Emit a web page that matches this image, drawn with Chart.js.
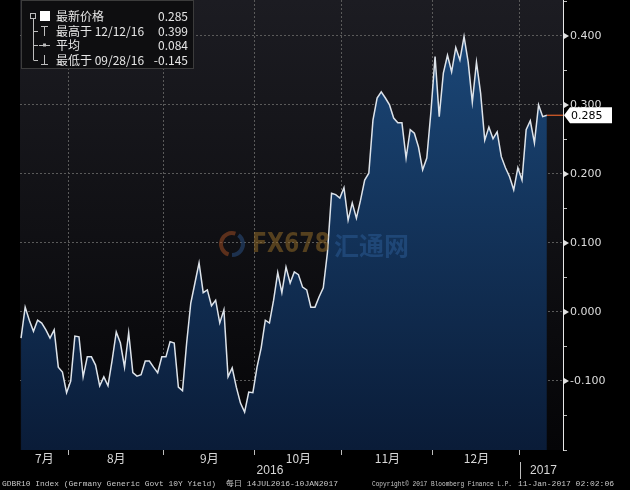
<!DOCTYPE html>
<html>
<head>
<meta charset="utf-8">
<script src="https://cdn.jsdelivr.net/npm/chart.js@4.4.0/dist/chart.umd.min.js"></script>
<style>
html, body { margin: 0; padding: 0; background: #000; }
canvas { display: block; }
</style>
</head>
<body>
<canvas id="myChart" width="630" height="490"></canvas>
<script>
// GDBR10 daily yield, 14 Jul 2016 - 10 Jan 2017
var yields = [
    -0.038, 0.007, -0.012, -0.028, -0.012, -0.016, -0.026, -0.038, -0.026, -0.080, -0.087, -0.117,
    -0.100, -0.035, -0.036, -0.094, -0.065, -0.065, -0.077, -0.107, -0.094, -0.107, -0.070,
    -0.029, -0.045, -0.080, -0.030, -0.088, -0.093, -0.091, -0.071, -0.071, -0.080, -0.088,
    -0.065, -0.065, -0.043, -0.045, -0.109, -0.114, -0.045, 0.013, 0.042, 0.071, 0.028,
    0.032, 0.009, 0.017, -0.016, 0.003, -0.094, -0.081, -0.109, -0.132, -0.145, -0.116,
    -0.117, -0.080, -0.052, -0.012, -0.016, 0.017, 0.057, 0.028, 0.065, 0.042, 0.058,
    0.054, 0.036, 0.032, 0.007, 0.007, 0.022, 0.035, 0.086, 0.172, 0.170, 0.165,
    0.180, 0.133, 0.158, 0.136, 0.162, 0.191, 0.201, 0.278, 0.310, 0.319, 0.310,
    0.300, 0.281, 0.274, 0.274, 0.223, 0.264, 0.259, 0.239, 0.206, 0.223, 0.290,
    0.370, 0.283, 0.346, 0.372, 0.348, 0.383, 0.365, 0.399, 0.362, 0.304, 0.362,
    0.317, 0.249, 0.268, 0.251, 0.261, 0.225, 0.209, 0.196, 0.177, 0.209, 0.191,
    0.264, 0.277, 0.245, 0.300, 0.283, 0.285
];

// month boundaries (in trading-day index) and labels
var monthEdges = [11.5, 34.5, 56.5, 77.5, 99.5, 120.5];
var monthLabels = ['7月', '8月', '9月', '10月', '11月', '12月'];
var yearLabels = ['2016', '2017'];

// right axis
var yTicks = [-0.2, -0.15, -0.1, -0.05, 0, 0.05, 0.1, 0.15, 0.2, 0.25, 0.3, 0.35, 0.4, 0.45];
var yLabels = [-0.1, 0, 0.1, 0.2, 0.3, 0.4];

// legend box
var legendNames = ['最新价格', '最高于 12/12/16', '平均', '最低于 09/28/16'];
var legendValues = ['0.285', '0.399', '0.084', '-0.145'];
var lastValue = '0.285';

var footer = [
    'GDBR10 Index (Germany Generic Govt 10Y Yield)',
    '每日 14JUL2016-10JAN2017',
    'Copyright\u00a9 2017 Bloomberg Finance L.P.',
    '11-Jan-2017 02:02:06'
];

var points = yields.map(function (v, i) { return {x: i, y: v}; });

function isMajor(v) {
    for (var i = 0; i < yLabels.length; i++) {
        if (Math.abs(yLabels[i] - v) < 1e-6) return true;
    }
    return false;
}

var cjk = '"Noto Sans CJK SC", "Noto Sans", sans-serif';

var decor = {
    id: 'decor',
    beforeDraw: function (chart) {
        var ctx = chart.ctx, a = chart.chartArea;
        ctx.save();
        ctx.fillStyle = '#000';
        ctx.fillRect(0, 0, chart.width, chart.height);
        var g = ctx.createLinearGradient(0, a.top, 0, a.bottom);
        g.addColorStop(0, '#1c1c22');
        g.addColorStop(1, '#050507');
        ctx.fillStyle = g;
        ctx.fillRect(a.left, a.top, a.right - a.left, a.bottom - a.top);
        ctx.restore();
    },
    afterDatasetsDraw: function (chart) {
        // faint watermark
        var ctx = chart.ctx;
        ctx.save();
        ctx.globalAlpha = 0.55;
        ctx.lineWidth = 4;
        ctx.strokeStyle = '#9a4a22';
        ctx.beginPath();
        ctx.arc(232, 244, 11, Math.PI * 0.6, Math.PI * 1.6);
        ctx.stroke();
        ctx.strokeStyle = '#2a4f80';
        ctx.beginPath();
        ctx.arc(232, 244, 11, Math.PI * 1.7, Math.PI * 0.5);
        ctx.stroke();
        ctx.font = 'bold 27px "DejaVu Sans", sans-serif';
        ctx.textBaseline = 'middle';
        ctx.fillStyle = '#8f6a28';
        ctx.fillText('FX678', 252, 245, 78);
        ctx.font = 'bold 25px ' + cjk;
        ctx.fillStyle = '#2a5a92';
        ctx.fillText('汇通网', 334, 245, 84);
        ctx.restore();
    },
    afterDraw: function (chart) {
        var ctx = chart.ctx, a = chart.chartArea;
        var xs = chart.scales.x, ys = chart.scales.y;
        ctx.save();

        // last price line + tag
        var lx = xs.getPixelForValue(yields.length - 1);
        var ly = ys.getPixelForValue(yields[yields.length - 1]);
        ctx.strokeStyle = '#e0602a';
        ctx.lineWidth = 1.2;
        ctx.beginPath();
        ctx.moveTo(lx, ly);
        ctx.lineTo(a.right, ly);
        ctx.stroke();

        // pointers on labelled ticks
        ctx.fillStyle = '#e0e0e0';
        yLabels.forEach(function (v) {
            var py = ys.getPixelForValue(v);
            ctx.beginPath();
            ctx.moveTo(a.right + 1, py - 3);
            ctx.lineTo(a.right + 6, py);
            ctx.lineTo(a.right + 1, py + 3);
            ctx.closePath();
            ctx.fill();
        });

        ctx.fillStyle = '#fff';
        ctx.beginPath();
        ctx.moveTo(a.right + 1, ly);
        ctx.lineTo(a.right + 7, ly - 8);
        ctx.lineTo(a.right + 49, ly - 8);
        ctx.lineTo(a.right + 49, ly + 8);
        ctx.lineTo(a.right + 7, ly + 8);
        ctx.closePath();
        ctx.fill();
        ctx.fillStyle = '#000';
        ctx.font = '11px "DejaVu Sans", sans-serif';
        ctx.textBaseline = 'middle';
        ctx.fillText(lastValue, a.right + 8, ly + 1);

        // legend box
        ctx.fillStyle = '#0e0e10';
        ctx.fillRect(21.5, 0.5, 172, 68);
        ctx.strokeStyle = '#3c3c3c';
        ctx.lineWidth = 1;
        ctx.strokeRect(21.5, 0.5, 172, 68);
        var rows = [16, 31, 45, 60];
        ctx.strokeStyle = '#bdbdbd';
        ctx.strokeRect(30.5, 13.5, 5, 5);
        ctx.beginPath();
        ctx.moveTo(33.5, 19);
        ctx.lineTo(33.5, rows[3]);
        for (var r = 1; r < 4; r++) {
            ctx.moveTo(33.5, rows[r] + 0.5);
            ctx.lineTo(38, rows[r] + 0.5);
        }
        // high marker
        ctx.moveTo(44.5, rows[1] - 5);
        ctx.lineTo(44.5, rows[1] + 5);
        ctx.moveTo(41, rows[1] - 4.5);
        ctx.lineTo(48, rows[1] - 4.5);
        // average marker
        ctx.moveTo(39, rows[2] + 0.5);
        ctx.lineTo(50, rows[2] + 0.5);
        // low marker
        ctx.moveTo(44.5, rows[3] - 5);
        ctx.lineTo(44.5, rows[3] + 5);
        ctx.moveTo(41, rows[3] + 4.5);
        ctx.lineTo(48, rows[3] + 4.5);
        ctx.stroke();
        ctx.fillStyle = '#bdbdbd';
        ctx.fillRect(43, rows[2] - 1.5, 3, 3);
        ctx.fillStyle = '#fff';
        ctx.fillRect(40, rows[0] - 5, 10, 10);

        ctx.font = '12px ' + cjk;
        ctx.textBaseline = 'middle';
        ctx.fillStyle = '#e6e6e6';
        for (var k = 0; k < legendNames.length; k++) {
            ctx.textAlign = 'left';
            ctx.fillText(legendNames[k], 56, rows[k], 100);
            ctx.textAlign = 'right';
            ctx.fillText(legendValues[k], 188, rows[k]);
        }

        // month labels under the plot
        ctx.textAlign = 'center';
        ctx.font = '12px ' + cjk;
        ctx.fillStyle = '#d8d8d8';
        var edges = [xs.min].concat(monthEdges);
        for (var m = 0; m < monthLabels.length; m++) {
            var cx = (xs.getPixelForValue(edges[m]) + xs.getPixelForValue(edges[m + 1])) / 2;
            ctx.fillText(monthLabels[m], cx, a.bottom + 8);
        }
        // years
        var sep = xs.getPixelForValue(monthEdges[monthEdges.length - 1]);
        ctx.font = '12px "Liberation Sans Narrow", "Liberation Sans", sans-serif';
        ctx.fillText(yearLabels[0], (a.left + sep) / 2, a.bottom + 21);
        ctx.fillText(yearLabels[1], (sep + a.right) / 2 + 2, a.bottom + 21);
        ctx.strokeStyle = '#bdbdbd';
        ctx.beginPath();
        ctx.moveTo(Math.round(sep) + 0.5, a.bottom + 12);
        ctx.lineTo(Math.round(sep) + 0.5, a.bottom + 29);
        ctx.stroke();

        // footer line
        ctx.textAlign = 'left';
        ctx.font = '8px "Liberation Mono", "DejaVu Sans Mono", monospace';
        ctx.fillStyle = '#c8c8c8';
        ctx.fillText(footer[0], 2, 484, 214);
        ctx.fillText(footer[1], 226, 484, 140);
        ctx.fillText(footer[2], 372, 484, 140);
        ctx.fillText(footer[3], 518, 484, 110);
        ctx.restore();
    }
};

var ctx = document.getElementById('myChart').getContext('2d');
var myChart = new Chart(ctx, {
    type: 'line',
    data: {
        datasets: [{
            data: points,
            borderColor: '#dde3ea',
            borderWidth: 1.5,
            pointRadius: 0,
            tension: 0,
            fill: 'start',
            backgroundColor: function (context) {
                var a = context.chart.chartArea;
                if (!a) return '#15345a';
                var g = context.chart.ctx.createLinearGradient(0, a.top, 0, a.bottom);
                g.addColorStop(0, '#1c4a7c');
                g.addColorStop(1, '#0a1c38');
                return g;
            }
        }]
    },
    options: {
        responsive: false,
        animation: false,
        layout: { padding: { left: 20, top: 0, right: 0, bottom: 0 } },
        plugins: { legend: { display: false }, tooltip: { enabled: false } },
        scales: {
            x: {
                type: 'linear',
                min: -0.25,
                max: 130.9,
                afterBuildTicks: function (scale) {
                    scale.ticks = monthEdges.map(function (v) { return {value: v}; });
                },
                afterFit: function (scale) {
                    scale.height = 40;
                    scale.paddingLeft = 0;
                    scale.paddingRight = 0;
                },
                ticks: { display: false },
                grid: {
                    color: '#5a5a5a',
                    lineWidth: 1,
                    tickLength: 5,
                    tickColor: '#bdbdbd'
                },
                border: { display: false, dash: [2, 2] }
            },
            y: {
                position: 'right',
                min: -0.2,
                max: 0.452,
                afterBuildTicks: function (scale) {
                    scale.ticks = yTicks.map(function (v) { return {value: v}; });
                },
                afterFit: function (scale) {
                    scale.width = 67;
                    scale.paddingTop = 0;
                    scale.paddingBottom = 0;
                },
                ticks: {
                    color: '#dcdcdc',
                    padding: 3,
                    font: { family: '"DejaVu Sans", sans-serif', size: 11 },
                    callback: function (v) { return isMajor(v) ? v.toFixed(3) : ''; }
                },
                grid: {
                    color: function (c) {
                        return c.tick && isMajor(c.tick.value) ? '#5a5a5a' : 'rgba(0,0,0,0)';
                    },
                    lineWidth: 1,
                    tickLength: 4,
                    tickColor: '#bdbdbd'
                },
                border: { color: '#e8e8e8', width: 1, dash: [2, 2] }
            }
        }
    },
    plugins: [decor]
});
</script>
</body>
</html>
